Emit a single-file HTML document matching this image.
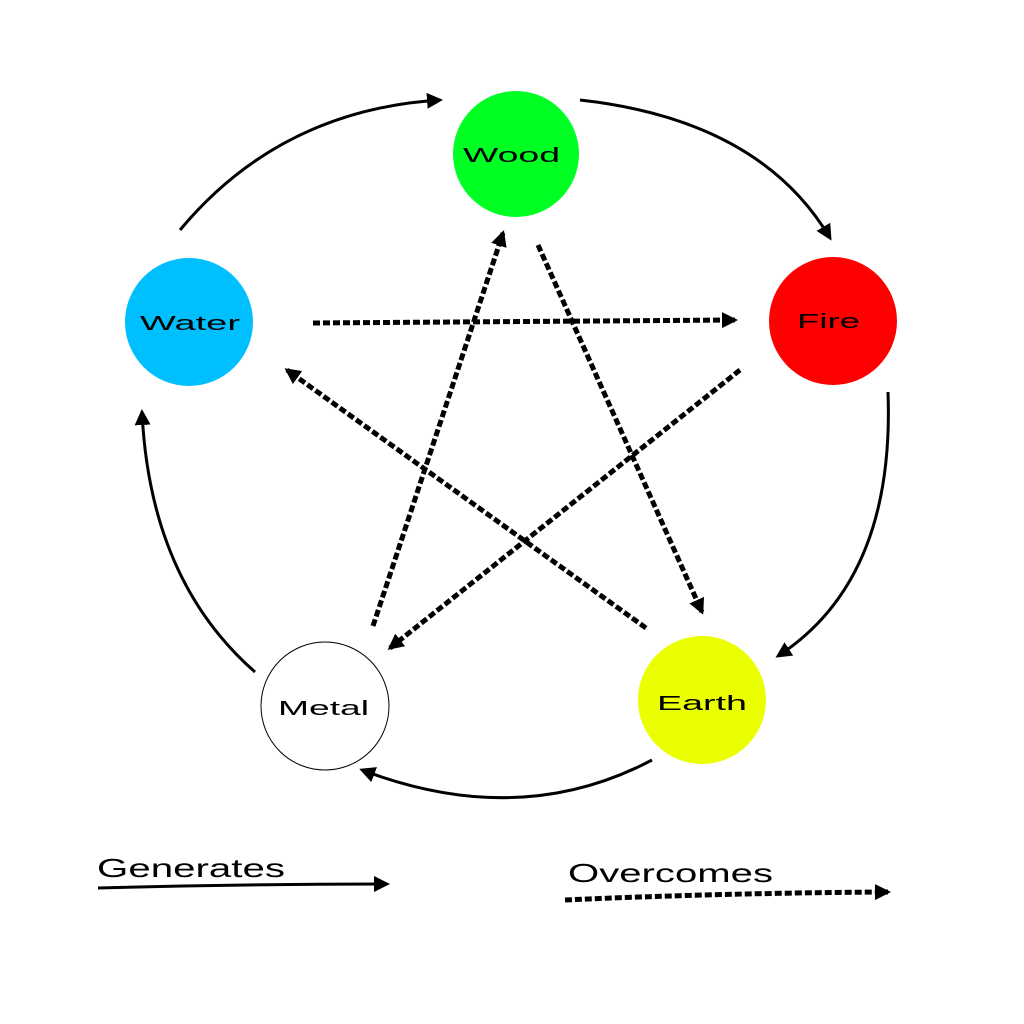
<!DOCTYPE html>
<html><head><meta charset="utf-8"><style>
html,body{margin:0;padding:0;background:#fff;}
svg{display:block;}
text{font-family:"Liberation Sans",Arial,sans-serif;}
</style></head><body>
<svg width="1024" height="1024" viewBox="0 0 1024 1024" xmlns="http://www.w3.org/2000/svg">
<defs>
<marker id="b" markerWidth="16" markerHeight="16" refX="13" refY="8" orient="auto" markerUnits="userSpaceOnUse" viewBox="0 0 16 16">
<path d="M0,0 L16,8 L0,16 z" fill="#000"/></marker>
</defs>
<rect width="1024" height="1024" fill="#fff"/>
<g fill="none" stroke="#000" stroke-width="3" marker-end="url(#b)">
<path d="M180,230 Q280,110 440,100"/>
<path d="M580,100 Q760,120 830,238"/>
<path d="M888,392 Q895,580 778,656"/>
<path d="M652,760 Q520,830 362,770"/>
<path d="M255,672 Q150,580 142,412"/>
</g>
<g fill="none" stroke="#000" stroke-width="5" stroke-dasharray="7 3" marker-end="url(#b)">
<path d="M313,323 L735,320"/>
<path d="M740,370 L390,648"/>
<path d="M373,626 L503,233"/>
<path d="M538,245 L702,612"/>
<path d="M646,628 L287,370"/>
</g>
<circle cx="516" cy="154" r="63" fill="#00ff22"/>
<circle cx="833" cy="321" r="64" fill="#ff0000"/>
<circle cx="189" cy="322" r="64" fill="#00bfff"/>
<circle cx="702" cy="700" r="64" fill="#eaff00"/>
<circle cx="325" cy="706" r="64" fill="#fff" stroke="#000" stroke-width="1"/>
<g font-size="20" fill="#000">
<text x="463" y="162" textLength="97" lengthAdjust="spacingAndGlyphs">Wood</text>
<text x="797" y="328" textLength="63" lengthAdjust="spacingAndGlyphs">Fire</text>
<text x="140" y="330" textLength="100" lengthAdjust="spacingAndGlyphs">Water</text>
<text x="657" y="710" textLength="90" lengthAdjust="spacingAndGlyphs">Earth</text>
<text x="278" y="715" textLength="91" lengthAdjust="spacingAndGlyphs">Metal</text>
</g>
<text x="97" y="877" font-size="26" textLength="188" lengthAdjust="spacingAndGlyphs">Generates</text>
<text x="568" y="882" font-size="26" textLength="205" lengthAdjust="spacingAndGlyphs">Overcomes</text>
<path d="M98,888 Q240,884 387,884" fill="none" stroke="#000" stroke-width="3" marker-end="url(#b)"/>
<path d="M565,900 Q720,893 888,892" fill="none" stroke="#000" stroke-width="5" stroke-dasharray="7 3" marker-end="url(#b)"/>
</svg>
</body></html>
